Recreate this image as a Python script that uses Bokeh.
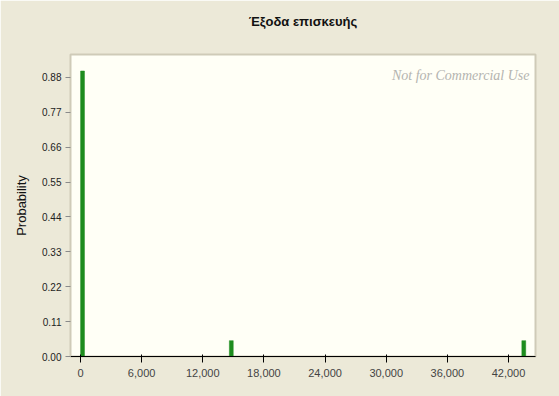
from bokeh.plotting import figure
from bokeh.models import (FixedTicker, NumeralTickFormatter, Label, Range1d,
                          ColumnDataSource, LinearAxis)
from bokeh.embed import file_html
from bokeh.resources import INLINE

title_text = "Έξοδα επισκευής"
y_label = "Probability"
watermark = "Not for Commercial Use"

values = [200, 14800, 43500]
probabilities = [0.90, 0.05, 0.05]

x_ticks = [0, 6000, 12000, 18000, 24000, 30000, 36000, 42000]
y_ticks = [0.00, 0.11, 0.22, 0.33, 0.44, 0.55, 0.66, 0.77, 0.88]

bg = "#ECE9D8"
frame_bg = "#FFFFF6"
x_start, x_end = -980, 44650
y_start, y_end = 0, 0.952

p = figure(width=559, height=396, output_backend="svg", toolbar_location=None,
           x_range=Range1d(x_start, x_end), y_range=Range1d(y_start, y_end),
           min_border_left=70, min_border_right=24, min_border_top=54, min_border_bottom=40,
           background_fill_color=frame_bg, border_fill_color=bg)

src = ColumnDataSource(dict(x=values, top=probabilities))
p.vbar(x="x", top="top", width=380, bottom=0, source=src,
       fill_color="#1E8C1E", line_color="#1E8C1E", line_width=0.5)

# title drawn as the label of an empty axis above the frame
title_axis = LinearAxis(axis_label=title_text, ticker=FixedTicker(ticks=[]),
                        axis_line_color=None, major_tick_line_color=None,
                        minor_tick_line_color=None, major_label_text_font_size="0px",
                        axis_label_standoff=26, axis_label_text_font="Liberation Sans",
                        axis_label_text_font_size="13px",
                        axis_label_text_font_style="bold",
                        axis_label_text_color="#111111")
p.add_layout(title_axis, "above")

p.xgrid.visible = False
p.ygrid.visible = False
p.outline_line_color = "#CFCBB8"
p.outline_line_width = 2

for ax in (p.xaxis[0], p.yaxis[0]):
    ax.axis_line_color = "#CFCBB8"
    ax.major_tick_line_color = "#8A8A8A"
    ax.major_tick_out = 5
    ax.major_tick_in = 0
    ax.minor_tick_line_color = None
    ax.major_label_text_font = "Liberation Sans"
    ax.major_label_text_font_size = "10px"
    ax.major_label_text_color = "#222222"

xa = p.below[0]
xa.major_label_standoff = 6
xa.ticker = FixedTicker(ticks=x_ticks)
xa.formatter = NumeralTickFormatter(format="0,0")

ya = p.yaxis[0]
ya.major_label_standoff = 4
ya.ticker = FixedTicker(ticks=y_ticks)
ya.formatter = NumeralTickFormatter(format="0.00")
ya.axis_label = y_label
ya.axis_label_text_font = "Liberation Sans"
ya.axis_label_text_font_size = "13px"
ya.axis_label_text_font_style = "normal"
ya.axis_label_text_color = "#111111"
ya.axis_label_standoff = 10

p.add_layout(Label(x=x_end, y=y_end, x_units="data", y_units="data",
                   x_offset=-6, y_offset=-28, text=watermark, text_align="right",
                   text_font="Liberation Serif", text_font_style="italic",
                   text_font_size="14px", text_color="#B4B4B0"))

open("out.html", "w").write(file_html(p, INLINE))
